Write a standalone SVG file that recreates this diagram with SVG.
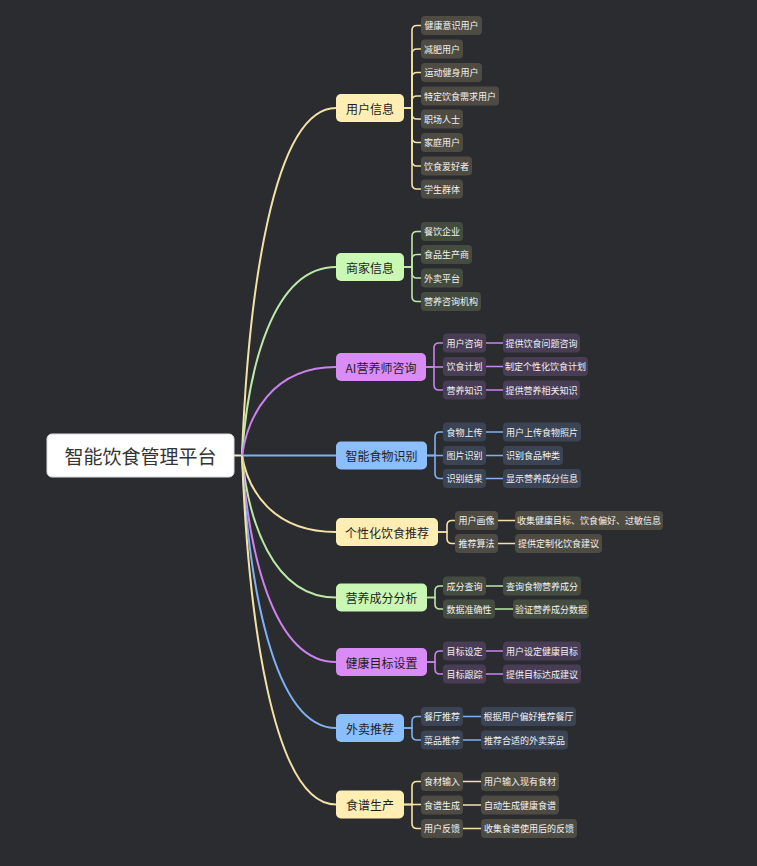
<svg xmlns="http://www.w3.org/2000/svg" width="757" height="866" viewBox="0 0 757 866">
<style>
text{font-family:"Noto Sans CJK SC","Liberation Sans",sans-serif;text-anchor:middle;dominant-baseline:central}
.root rect{fill:#ffffff;stroke:#dddddd;stroke-width:1}
.root text{font-size:19px;fill:#333333}
.l1 text{font-size:12px;fill:#1e1e1e}
.leaf text{font-size:9px;fill:#f2f2f2}
.y>rect{fill:#ffeeb3}.g>rect{fill:#c9f7b4}.p>rect{fill:#d98cf6}.b>rect{fill:#8abefc}
.ly rect{fill:#4e4b43}.lg rect{fill:#444c40}.lp rect{fill:#483d55}.lb rect{fill:#3b4454}
.c{fill:none;stroke-width:1.6}
.cy{stroke:#f4e2a4}.cg{stroke:#bbe9a6}.cp{stroke:#cc82ee}.cb{stroke:#7fb1f2}
.m{stroke-width:2}
</style>
<rect width="757" height="866" fill="#2b2c30"/>
<g id="connectors">
<path class="c m" stroke="#f3ead0" d="M234 455.5H242"/>
<path class="c m cy" d="M242 455.5C248 299.1 272 108 336 108"/>
<path class="c m cg" d="M242 455.5C248 370.7 272 267 336 267"/>
<path class="c m cp" d="M242 455.5C248 415.7 272 367 336 367"/>
<path class="c m cb" d="M242 455.5H336"/>
<path class="c m cy" d="M242 455.5C248 489.9 272 532 336 532"/>
<path class="c m cg" d="M242 455.5C248 519.4 272 597.5 336 597.5"/>
<path class="c m cp" d="M242 455.5C248 548.4 272 662 336 662"/>
<path class="c m cb" d="M242 455.5C248 578.1 272 728 336 728"/>
<path class="c m cy" d="M242 455.5C248 612.5 272 804.5 336 804.5"/>
<g class="c cy">
<path d="M404 108H412V30.5Q412 25.5 417 25.5H421"/>
<path d="M404 108H412V54Q412 49 417 49H421"/>
<path d="M404 108H412V77.5Q412 72.5 417 72.5H421"/>
<path d="M404 108H412V101Q412 96 417 96H421"/>
<path d="M404 108H412V114Q412 119 417 119H421"/>
<path d="M404 108H412V137.5Q412 142.5 417 142.5H421"/>
<path d="M404 108H412V161Q412 166 417 166H421"/>
<path d="M404 108H412V184Q412 189 417 189H421"/>
</g>
<g class="c cg">
<path d="M404 267H412V236.5Q412 231.5 417 231.5H421"/>
<path d="M404 267H412V259.5Q412 254.5 417 254.5H421"/>
<path d="M404 267H412V273Q412 278 417 278H421"/>
<path d="M404 267H412V296.5Q412 301.5 417 301.5H421"/>
</g>
<g class="c cp">
<path d="M426 367H434V348Q434 343 439 343H443"/>
<path d="M426 367H443"/>
<path d="M426 367H434V385Q434 390 439 390H443"/>
<path d="M486 343H503M486 366.5H503M486 390H503"/>
</g>
<g class="c cb">
<path d="M427 455.5H435V437Q435 432 440 432H443"/>
<path d="M427 455.5H443"/>
<path d="M427 455.5H435V473.5Q435 478.5 440 478.5H443"/>
<path d="M486 432H503M486 455.5H503M486 478.5H503"/>
</g>
<g class="c cy">
<path d="M438 532H447V525.5Q447 520.5 452 520.5H455"/>
<path d="M438 532H447V538.5Q447 543.5 452 543.5H455"/>
<path d="M498 520.5H515M498 543.5H515"/>
</g>
<g class="c cg">
<path d="M427 597.5H435V591Q435 586 440 586H443"/>
<path d="M427 597.5H435V604Q435 609 440 609H443"/>
<path d="M486 586H503M495 609H513"/>
</g>
<g class="c cp">
<path d="M427 662H435V656Q435 651 440 651H443"/>
<path d="M427 662H435V669Q435 674 440 674H443"/>
<path d="M486 651H503M486 674H503"/>
</g>
<g class="c cb">
<path d="M404 728H412V721.5Q412 716.5 417 716.5H421"/>
<path d="M404 728H412V735Q412 740 417 740H421"/>
<path d="M463 716.5H481M463 740H481"/>
</g>
<g class="c cy">
<path d="M404 804.5H412V786.5Q412 781.5 417 781.5H421"/>
<path d="M404 804.5H421"/>
<path d="M404 804.5H412V823.5Q412 828.5 417 828.5H421"/>
<path d="M463 781.5H481M463 805H481M463 828.5H481"/>
</g>
</g>
<g id="root" class="root"><rect x="47" y="434" width="187" height="43" rx="5"/><text x="140.5" y="455.5">智能饮食管理平台</text></g>
<g id="n1" class="l1 y"><rect x="336" y="94" width="68" height="28" rx="5"/><text x="370" y="108">用户信息</text></g>
<g id="n2" class="l1 g"><rect x="336" y="253" width="68" height="28" rx="5"/><text x="370" y="267">商家信息</text></g>
<g id="n3" class="l1 p"><rect x="336" y="353" width="90" height="28" rx="5"/><text x="381" y="367">AI营养师咨询</text></g>
<g id="n4" class="l1 b"><rect x="336" y="441.5" width="91" height="28" rx="5"/><text x="381.5" y="455.5">智能食物识别</text></g>
<g id="n5" class="l1 y"><rect x="336" y="518" width="102" height="28" rx="5"/><text x="387" y="532">个性化饮食推荐</text></g>
<g id="n6" class="l1 g"><rect x="336" y="583.5" width="91" height="28" rx="5"/><text x="381.5" y="597.5">营养成分分析</text></g>
<g id="n7" class="l1 p"><rect x="336" y="648" width="91" height="28" rx="5"/><text x="381.5" y="662">健康目标设置</text></g>
<g id="n8" class="l1 b"><rect x="336" y="714" width="68" height="28" rx="5"/><text x="370" y="728">外卖推荐</text></g>
<g id="n9" class="l1 y"><rect x="336" y="790.5" width="68" height="28" rx="5"/><text x="370" y="804.5">食谱生产</text></g>

<g id="n1-leaves" class="leaf ly">
<g id="n1a"><rect x="421" y="16" width="61" height="19" rx="4"/><text x="451.5" y="25.5">健康意识用户</text></g>
<g id="n1b"><rect x="421" y="39.5" width="42" height="19" rx="4"/><text x="442" y="49">减肥用户</text></g>
<g id="n1c"><rect x="421" y="63" width="61" height="19" rx="4"/><text x="451.5" y="72.5">运动健身用户</text></g>
<g id="n1d"><rect x="421" y="86.5" width="78" height="19" rx="4"/><text x="460" y="96">特定饮食需求用户</text></g>
<g id="n1e"><rect x="421" y="109.5" width="42" height="19" rx="4"/><text x="442" y="119">职场人士</text></g>
<g id="n1f"><rect x="421" y="133" width="42" height="19" rx="4"/><text x="442" y="142.5">家庭用户</text></g>
<g id="n1g"><rect x="421" y="156.5" width="51" height="19" rx="4"/><text x="446.5" y="166">饮食爱好者</text></g>
<g id="n1h"><rect x="421" y="179.5" width="42" height="19" rx="4"/><text x="442" y="189">学生群体</text></g>
</g>
<g id="n2-leaves" class="leaf lg">
<g id="n2a"><rect x="421" y="222" width="42" height="19" rx="4"/><text x="442" y="231.5">餐饮企业</text></g>
<g id="n2b"><rect x="421" y="245" width="51" height="19" rx="4"/><text x="446.5" y="254.5">食品生产商</text></g>
<g id="n2c"><rect x="421" y="268.5" width="42" height="19" rx="4"/><text x="442" y="278">外卖平台</text></g>
<g id="n2d"><rect x="421" y="292" width="60" height="19" rx="4"/><text x="451" y="301.5">营养咨询机构</text></g>
</g>
<g id="n3-leaves" class="leaf lp">
<g id="n3a"><rect x="443" y="333.5" width="43" height="19" rx="4"/><text x="464.5" y="343">用户咨询</text></g>
<g id="n3b"><rect x="443" y="357" width="43" height="19" rx="4"/><text x="464.5" y="366.5">饮食计划</text></g>
<g id="n3c"><rect x="443" y="380.5" width="43" height="19" rx="4"/><text x="464.5" y="390">营养知识</text></g>
<g id="n3a1"><rect x="503" y="333.5" width="77" height="19" rx="4"/><text x="541.5" y="343">提供饮食问题咨询</text></g>
<g id="n3b1"><rect x="503" y="357" width="85" height="19" rx="4"/><text x="545.5" y="366.5">制定个性化饮食计划</text></g>
<g id="n3c1"><rect x="503" y="380.5" width="77" height="19" rx="4"/><text x="541.5" y="390">提供营养相关知识</text></g>
</g>
<g id="n4-leaves" class="leaf lb">
<g id="n4a"><rect x="443" y="422.5" width="43" height="19" rx="4"/><text x="464.5" y="432">食物上传</text></g>
<g id="n4b"><rect x="443" y="446" width="43" height="19" rx="4"/><text x="464.5" y="455.5">图片识别</text></g>
<g id="n4c"><rect x="443" y="469" width="43" height="19" rx="4"/><text x="464.5" y="478.5">识别结果</text></g>
<g id="n4a1"><rect x="503" y="422.5" width="78" height="19" rx="4"/><text x="542" y="432">用户上传食物照片</text></g>
<g id="n4b1"><rect x="503" y="446" width="60" height="19" rx="4"/><text x="533" y="455.5">识别食品种类</text></g>
<g id="n4c1"><rect x="503" y="469" width="78" height="19" rx="4"/><text x="542" y="478.5">显示营养成分信息</text></g>
</g>
<g id="n5-leaves" class="leaf ly">
<g id="n5a"><rect x="455" y="511" width="43" height="19" rx="4"/><text x="476.5" y="520.5">用户画像</text></g>
<g id="n5b"><rect x="455" y="534" width="43" height="19" rx="4"/><text x="476.5" y="543.5">推荐算法</text></g>
<g id="n5a1"><rect x="515" y="511" width="148" height="19" rx="4"/><text x="589" y="520.5">收集健康目标、饮食偏好、过敏信息</text></g>
<g id="n5b1"><rect x="515" y="534" width="87" height="19" rx="4"/><text x="558.5" y="543.5">提供定制化饮食建议</text></g>
</g>
<g id="n6-leaves" class="leaf lg">
<g id="n6a"><rect x="443" y="576.5" width="43" height="19" rx="4"/><text x="464.5" y="586">成分查询</text></g>
<g id="n6b"><rect x="443" y="599.5" width="52" height="19" rx="4"/><text x="469" y="609">数据准确性</text></g>
<g id="n6a1"><rect x="503" y="576.5" width="78" height="19" rx="4"/><text x="542" y="586">查询食物营养成分</text></g>
<g id="n6b1"><rect x="513" y="599.5" width="76" height="19" rx="4"/><text x="551" y="609">验证营养成分数据</text></g>
</g>
<g id="n7-leaves" class="leaf lp">
<g id="n7a"><rect x="443" y="641.5" width="43" height="19" rx="4"/><text x="464.5" y="651">目标设定</text></g>
<g id="n7b"><rect x="443" y="664.5" width="43" height="19" rx="4"/><text x="464.5" y="674">目标跟踪</text></g>
<g id="n7a1"><rect x="503" y="641.5" width="78" height="19" rx="4"/><text x="542" y="651">用户设定健康目标</text></g>
<g id="n7b1"><rect x="503" y="664.5" width="78" height="19" rx="4"/><text x="542" y="674">提供目标达成建议</text></g>
</g>
<g id="n8-leaves" class="leaf lb">
<g id="n8a"><rect x="421" y="707" width="42" height="19" rx="4"/><text x="442" y="716.5">餐厅推荐</text></g>
<g id="n8b"><rect x="421" y="730.5" width="42" height="19" rx="4"/><text x="442" y="740">菜品推荐</text></g>
<g id="n8a1"><rect x="481" y="707" width="95" height="19" rx="4"/><text x="528.5" y="716.5">根据用户偏好推荐餐厅</text></g>
<g id="n8b1"><rect x="481" y="730.5" width="87" height="19" rx="4"/><text x="524.5" y="740">推荐合适的外卖菜品</text></g>
</g>
<g id="n9-leaves" class="leaf ly">
<g id="n9a"><rect x="421" y="772" width="42" height="19" rx="4"/><text x="442" y="781.5">食材输入</text></g>
<g id="n9b"><rect x="421" y="795.5" width="42" height="19" rx="4"/><text x="442" y="805">食谱生成</text></g>
<g id="n9c"><rect x="421" y="819" width="42" height="19" rx="4"/><text x="442" y="828.5">用户反馈</text></g>
<g id="n9a1"><rect x="481" y="772" width="78" height="19" rx="4"/><text x="520" y="781.5">用户输入现有食材</text></g>
<g id="n9b1"><rect x="481" y="795.5" width="78" height="19" rx="4"/><text x="520" y="805">自动生成健康食谱</text></g>
<g id="n9c1"><rect x="481" y="819" width="96" height="19" rx="4"/><text x="529" y="828.5">收集食谱使用后的反馈</text></g>
</g>
</svg>
